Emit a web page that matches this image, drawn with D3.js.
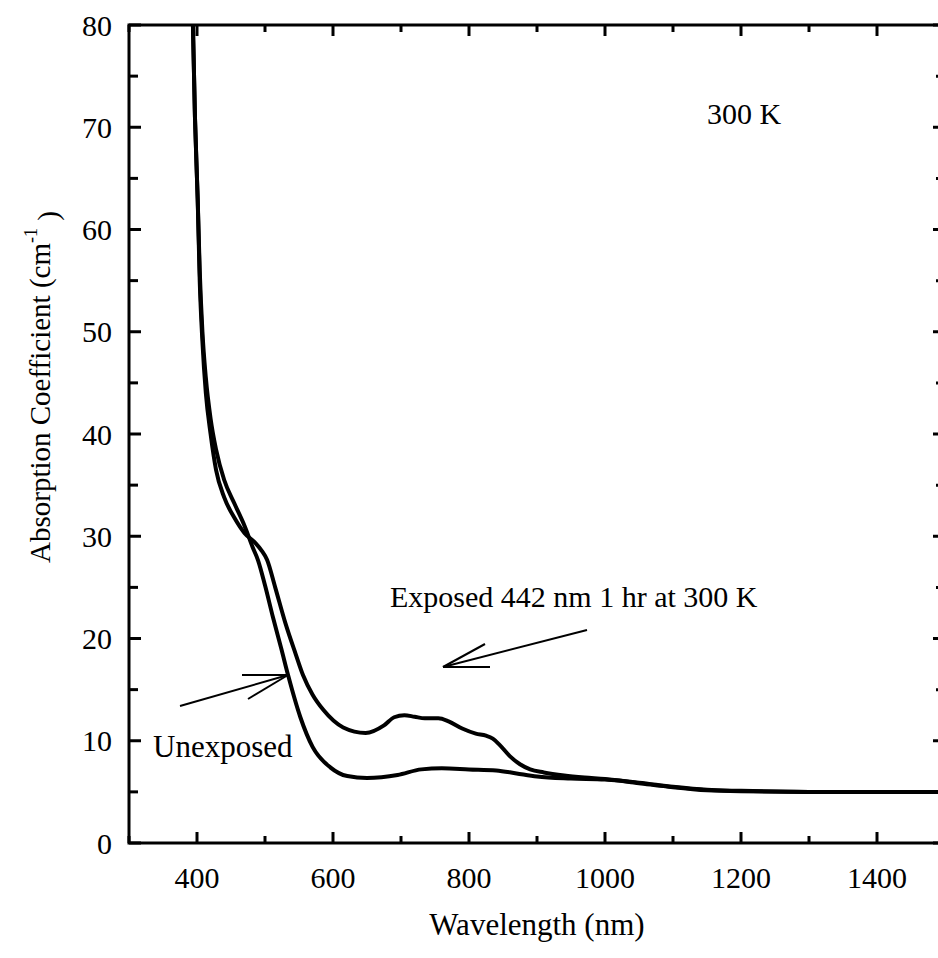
<!DOCTYPE html>
<html>
<head>
<meta charset="utf-8">
<script src="https://cdn.jsdelivr.net/npm/d3@7"></script>
<style>
  body { margin: 0; background: #fff; }
  svg { display: block; font-family: "Liberation Serif", "DejaVu Serif", serif; }
</style>
</head>
<body>
<div id="chart"></div>
<script>
// wavelength (nm) and absorption coefficient (cm^-1)
const unexposedNm = [394, 397, 401, 404, 408, 413, 420, 428, 440, 455, 470, 482, 490, 500, 512, 524, 534, 552, 570, 596, 621, 650, 695, 730, 760, 800, 840, 870, 900, 950, 1000, 1050, 1100, 1150, 1200, 1300, 1400, 1500];
const unexposedVal = [80, 71, 63, 56, 50, 45.5, 41.5, 38.5, 35.5, 33.2, 31, 28.9, 27.6, 25.2, 22, 19, 16.4, 12.3, 9.4, 7.4, 6.55, 6.36, 6.65, 7.2, 7.3, 7.2, 7.1, 6.8, 6.5, 6.3, 6.2, 5.9, 5.5, 5.2, 5.1, 5.0, 5.0, 5.0];

const exposedNm = [394, 397, 401, 404, 408, 413, 420, 428, 440, 455, 470, 485, 495, 503, 515, 530, 545, 556, 570, 586, 615, 648, 675, 690, 705, 720, 735, 755, 770, 790, 810, 825, 835, 845, 860, 875, 890, 910, 940, 970, 1000, 1050, 1100, 1150, 1200, 1300, 1400, 1500];
const exposedVal = [80, 71, 63, 55, 49, 44, 40, 36.5, 33.8, 31.8, 30.3, 29.4, 28.6, 27.7, 25, 21.5, 18.5, 16.4, 14.5, 13, 11.3, 10.76, 11.5, 12.3, 12.5, 12.35, 12.2, 12.2, 11.9, 11.2, 10.7, 10.5, 10.2, 9.6, 8.5, 7.7, 7.2, 6.9, 6.6, 6.4, 6.25, 5.85, 5.45, 5.15, 5.05, 5.0, 5.0, 5.0];

const xTicks = [400, 600, 800, 1000, 1200, 1400];
const xMinor = [300, 500, 700, 900, 1100, 1300, 1500];
const yTicks = [0, 10, 20, 30, 40, 50, 60, 70, 80];
const yMinor = [5, 15, 25, 35, 45, 55, 65, 75];

const width = 938, height = 958;
const margin = { top: 25, right: -7, bottom: 115, left: 129 };

const x = d3.scaleLinear().domain([300, 1500]).range([margin.left, width - margin.right]);
const y = d3.scaleLinear().domain([0, 80]).range([height - margin.bottom, margin.top]);

const svg = d3.select("#chart").append("svg")
  .attr("width", width)
  .attr("height", height);

svg.append("defs").append("clipPath").attr("id", "plot")
  .append("rect")
  .attr("x", x(300)).attr("y", y(80))
  .attr("width", x(1500) - x(300)).attr("height", y(0) - y(80));

//frame
svg.append("rect")
  .attr("x", x(300)).attr("y", y(80))
  .attr("width", x(1500) - x(300)).attr("height", y(0) - y(80))
  .style("fill", "none").style("stroke", "#000").style("stroke-width", 3);

//ticks, all pointing inward
const tickG = svg.append("g").style("stroke", "#000").style("stroke-width", 3);
function xTickMarks(vals, len) {
  vals.forEach((v) => {
    tickG.append("line").attr("x1", x(v)).attr("x2", x(v)).attr("y1", y(0)).attr("y2", y(0) - len);
    tickG.append("line").attr("x1", x(v)).attr("x2", x(v)).attr("y1", y(80)).attr("y2", y(80) + len);
  });
}
function yTickMarks(vals, len) {
  vals.forEach((v) => {
    tickG.append("line").attr("x1", x(300)).attr("x2", x(300) + len).attr("y1", y(v)).attr("y2", y(v));
    tickG.append("line").attr("x1", x(1500)).attr("x2", x(1500) - len).attr("y1", y(v)).attr("y2", y(v));
  });
}
xTickMarks(xTicks, 11);
xTickMarks(xMinor, 7);
yTickMarks(yTicks, 12);
yTickMarks(yMinor, 9);

//tick labels
svg.append("g").selectAll("text").data(xTicks).enter().append("text")
  .attr("x", (d) => x(d)).attr("y", 888)
  .attr("text-anchor", "middle")
  .style("font-size", "30px")
  .text((d) => d);

svg.append("g").selectAll("text").data(yTicks).enter().append("text")
  .attr("x", 112).attr("y", (d) => y(d))
  .attr("dy", "0.35em")
  .attr("text-anchor", "end")
  .style("font-size", "30px")
  .text((d) => d);

//axis titles
svg.append("text")
  .attr("x", (x(300) + x(1500)) / 2).attr("y", 935)
  .attr("text-anchor", "middle")
  .style("font-size", "31px")
  .text("Wavelength (nm)");

const yTitle = svg.append("text")
  .attr("transform", "translate(50,563) rotate(-90)")
  .style("font-size", "29px");
yTitle.append("tspan").text("Absorption Coefficient (cm");
yTitle.append("tspan").attr("dy", "-0.7em").style("font-size", "18px").text("-1");
yTitle.append("tspan").attr("dy", "0.7em").text(" )");

//curves
const line = d3.line()
  .x((d) => x(d[0]))
  .y((d) => y(d[1]))
  .curve(d3.curveMonotoneX);

const series = [
  d3.zip(unexposedNm, unexposedVal),
  d3.zip(exposedNm, exposedVal)
];

svg.append("g").attr("clip-path", "url(#plot)")
  .selectAll("path").data(series).enter().append("path")
  .attr("d", line)
  .style("fill", "none")
  .style("stroke", "#000")
  .style("stroke-width", 4)
  .style("stroke-linejoin", "round");

//annotations
const ann = svg.append("g").style("font-size", "30px");
ann.append("text").attr("x", 707).attr("y", 124).text("300 K");
ann.append("text").attr("x", 390).attr("y", 607).text("Exposed 442 nm 1 hr at 300 K");
ann.append("text").attr("x", 153).attr("y", 757).style("font-size", "31px").text("Unexposed");

const arrows = svg.append("g").style("stroke", "#000").style("stroke-width", 2).style("fill", "none");
function arrow(tail, tip, b1, b2) {
  arrows.append("line").attr("x1", tail[0]).attr("y1", tail[1]).attr("x2", tip[0]).attr("y2", tip[1]);
  arrows.append("line").attr("x1", b1[0]).attr("y1", b1[1]).attr("x2", tip[0]).attr("y2", tip[1]);
  arrows.append("line").attr("x1", b2[0]).attr("y1", b2[1]).attr("x2", tip[0]).attr("y2", tip[1]);
}
arrow([180, 706], [288, 675], [242, 675], [248, 699]);
arrow([587, 630], [443, 667], [485, 644], [490, 667]);
</script>
</body>
</html>
